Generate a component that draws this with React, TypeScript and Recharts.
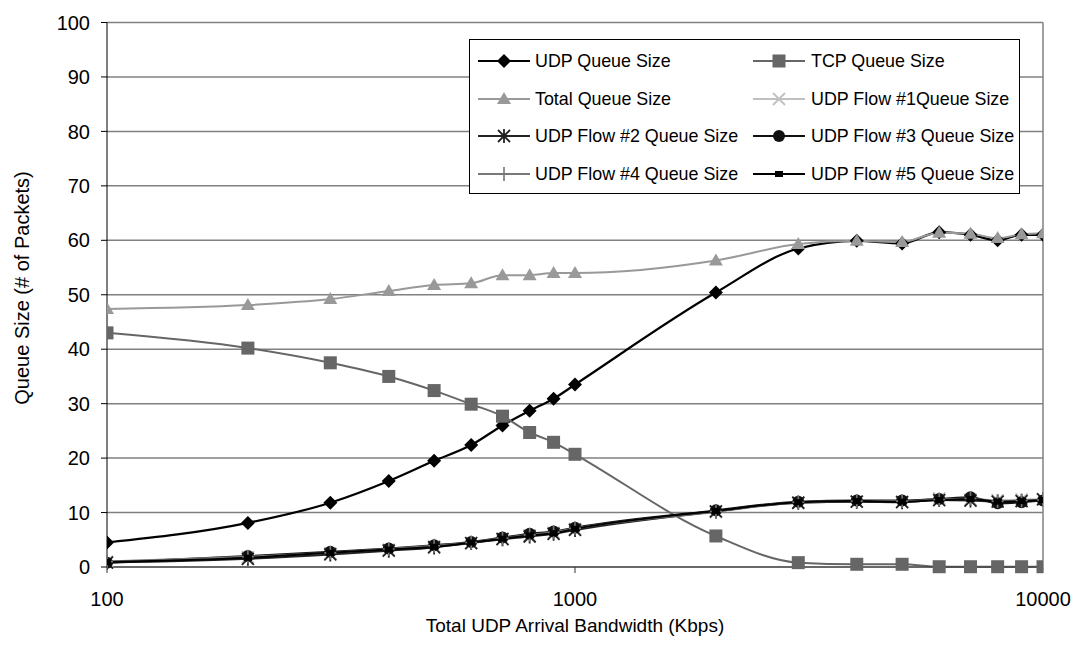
import React from "react";
import {
  LineChart,
  Line,
  XAxis,
  YAxis,
  CartesianGrid,
  ReferenceLine,
} from "recharts";

const FONT = "'Liberation Sans', Arial, sans-serif";

const BANDWIDTH = [100, 200, 300, 400, 500, 600, 700, 800, 900, 1000, 2000, 3000, 4000, 5000, 6000, 7000, 8000, 9000, 10000];
const UDP_QUEUE = [4.5, 8.1, 11.8, 15.8, 19.5, 22.4, 26.0, 28.7, 30.9, 33.5, 50.4, 58.5, 59.9, 59.4, 61.5, 61.0, 60.0, 61.0, 61.0];
const TCP_QUEUE = [43.0, 40.2, 37.5, 35.0, 32.4, 29.9, 27.7, 24.7, 22.9, 20.7, 5.7, 0.8, 0.5, 0.5, 0.05, 0.05, 0.05, 0.05, 0.05];
const TOTAL_QUEUE = [47.4, 48.1, 49.2, 50.7, 51.8, 52.1, 53.6, 53.6, 54.0, 54.0, 56.3, 59.3, 59.9, 59.7, 61.4, 61.2, 60.4, 61.1, 61.3];
const FLOW1 = [1.0, 1.8, 2.5, 3.2, 3.8, 4.4, 5.2, 5.8, 6.3, 7.0, 10.1, 11.8, 12.0, 12.0, 12.6, 12.4, 12.3, 12.4, 12.5];
const FLOW2 = [0.8, 1.5, 2.3, 3.0, 3.6, 4.4, 5.1, 5.6, 6.1, 6.8, 10.2, 11.8, 12.0, 11.9, 12.3, 12.2, 12.0, 12.1, 12.4];
const FLOW3 = [0.8, 2.0, 2.8, 3.4, 4.0, 4.6, 5.4, 6.1, 6.5, 7.2, 10.4, 12.0, 12.2, 12.2, 12.5, 12.8, 11.7, 11.9, 12.2];
const FLOW4 = [1.0, 1.9, 2.6, 3.3, 3.9, 4.5, 5.3, 5.9, 6.4, 7.1, 10.2, 11.9, 12.1, 12.1, 12.4, 12.6, 12.1, 12.2, 12.3];
const FLOW5 = [0.9, 1.7, 2.6, 3.2, 3.7, 4.5, 5.2, 5.8, 6.2, 7.0, 10.3, 11.9, 12.1, 12.0, 12.3, 12.5, 12.0, 12.1, 12.3];

const X_TICKS = [100, 1000, 10000];
const Y_TICKS = [0, 10, 20, 30, 40, 50, 60, 70, 80, 90, 100];

const data = BANDWIDTH.map((bw, i) => ({
  bw,
  udp: UDP_QUEUE[i],
  tcp: TCP_QUEUE[i],
  total: TOTAL_QUEUE[i],
  f1: FLOW1[i],
  f2: FLOW2[i],
  f3: FLOW3[i],
  f4: FLOW4[i],
  f5: FLOW5[i],
}));

type Kind = "diamond" | "square" | "triangle" | "cross" | "star" | "circle" | "plus" | "small";

const SERIES: { key: string; name: string; color: string; kind: Kind; width: number }[] = [
  { key: "udp", name: "UDP Queue Size", color: "#000000", kind: "diamond", width: 2.2 },
  { key: "tcp", name: "TCP Queue Size", color: "#666666", kind: "square", width: 2 },
  { key: "total", name: "Total Queue Size", color: "#999999", kind: "triangle", width: 2 },
  { key: "f1", name: "UDP Flow #1Queue Size", color: "#c0c0c0", kind: "cross", width: 2 },
  { key: "f2", name: "UDP Flow #2 Queue Size", color: "#222222", kind: "star", width: 2 },
  { key: "f3", name: "UDP Flow #3 Queue Size", color: "#111111", kind: "circle", width: 2 },
  { key: "f4", name: "UDP Flow #4 Queue Size", color: "#777777", kind: "plus", width: 2 },
  { key: "f5", name: "UDP Flow #5 Queue Size", color: "#000000", kind: "small", width: 2 },
];

function Marker({ kind, cx, cy, color }: { kind: Kind; cx: number; cy: number; color: string }) {
  switch (kind) {
    case "diamond":
      return <path d={`M${cx},${cy - 7}L${cx + 7},${cy}L${cx},${cy + 7}L${cx - 7},${cy}Z`} fill={color} />;
    case "square":
      return <rect x={cx - 6.5} y={cy - 6.5} width={13} height={13} fill={color} />;
    case "triangle":
      return <path d={`M${cx},${cy - 7}L${cx + 7},${cy + 5}L${cx - 7},${cy + 5}Z`} fill={color} />;
    case "cross":
      return (
        <path d={`M${cx - 6},${cy - 6}L${cx + 6},${cy + 6}M${cx + 6},${cy - 6}L${cx - 6},${cy + 6}`} stroke={color} strokeWidth={1.8} />
      );
    case "star":
      return (
        <path
          d={`M${cx - 6},${cy - 6}L${cx + 6},${cy + 6}M${cx + 6},${cy - 6}L${cx - 6},${cy + 6}M${cx},${cy - 7}L${cx},${cy + 7}`}
          stroke={color}
          strokeWidth={1.8}
        />
      );
    case "circle":
      return <circle cx={cx} cy={cy} r={6} fill={color} />;
    case "plus":
      return <path d={`M${cx - 6},${cy}L${cx + 6},${cy}M${cx},${cy - 7}L${cx},${cy + 7}`} stroke={color} strokeWidth={1.6} />;
    default:
      return <rect x={cx - 4} y={cy - 3} width={8} height={6} fill={color} />;
  }
}

function ChartLegend() {
  return (
    <div
      style={{
        position: "absolute",
        left: 469,
        top: 39,
        width: 549,
        height: 153,
        background: "#fff",
        border: "1px solid #000",
        fontFamily: FONT,
        fontSize: 19,
        color: "#000",
      }}
    >
      {SERIES.map((s, i) => {
        const col = i % 2;
        const row = Math.floor(i / 2);
        const top = 8 + row * 37.5;
        return (
          <div key={s.key} style={{ position: "absolute", left: col === 0 ? 8 : 283, top, height: 26, whiteSpace: "nowrap" }}>
            <svg width={54} height={26} style={{ position: "absolute", left: 0, top: 0 }}>
              <line x1={0} y1={13} x2={52} y2={13} stroke={s.color} strokeWidth={2} />
              <Marker kind={s.kind} cx={26} cy={13} color={s.color} />
            </svg>
            <span
              style={{
                position: "absolute",
                left: col === 0 ? 57 : 58,
                top: 1,
                lineHeight: "24px",
                display: "inline-block",
                transform: "scaleX(0.94)",
                transformOrigin: "0 0",
              }}
            >
              {s.name}
            </span>
          </div>
        );
      })}
    </div>
  );
}

export default function App() {
  return (
    <div style={{ position: "absolute", left: 0, top: 0, width: 1077, height: 652, background: "#fff" }}>
      <LineChart
        width={1077}
        height={652}
        data={data}
        margin={{ top: 22.5, right: 34, bottom: 35, left: 47 }}
        style={{ fontFamily: FONT }}
      >
        <CartesianGrid horizontal vertical={false} stroke="#808080" strokeWidth={1.5} />
        <XAxis
          dataKey="bw"
          type="number"
          scale="log"
          domain={[100, 10000]}
          ticks={X_TICKS}
          allowDataOverflow
          height={50}
          tickSize={6}
          tickMargin={19}
          stroke="#333"
          tick={{ fontSize: 20, fill: "#000" }}
          label={{
            content: () => (
              <text x={575} y={625} textAnchor="middle" dominantBaseline="central" fontSize={19} fill="#000">
                Total UDP Arrival Bandwidth (Kbps)
              </text>
            ),
          }}
        />
        <YAxis
          type="number"
          domain={[0, 100]}
          ticks={Y_TICKS}
          width={60}
          tickSize={6}
          tickMargin={11}
          stroke="#000"
          tick={{ fontSize: 20, fill: "#000" }}
          label={{
            content: () => (
              <text x={22} y={288} transform="rotate(-90 22 288)" textAnchor="middle" dominantBaseline="central" fontSize={20} fill="#000">
                Queue Size (# of Packets)
              </text>
            ),
          }}
        />
        <ReferenceLine x={10000} stroke="#808080" strokeWidth={1.5} />
        {SERIES.map((s) => (
          <Line
            key={s.key}
            dataKey={s.key}
            name={s.name}
            type="monotone"
            stroke={s.color}
            strokeWidth={s.width}
            isAnimationActive={false}
            activeDot={false}
            dot={(p: any) => <Marker key={`${s.key}-${p.index}`} kind={s.kind} cx={p.cx} cy={p.cy} color={s.color} />}
          />
        ))}
      </LineChart>
      <ChartLegend />
    </div>
  );
}
